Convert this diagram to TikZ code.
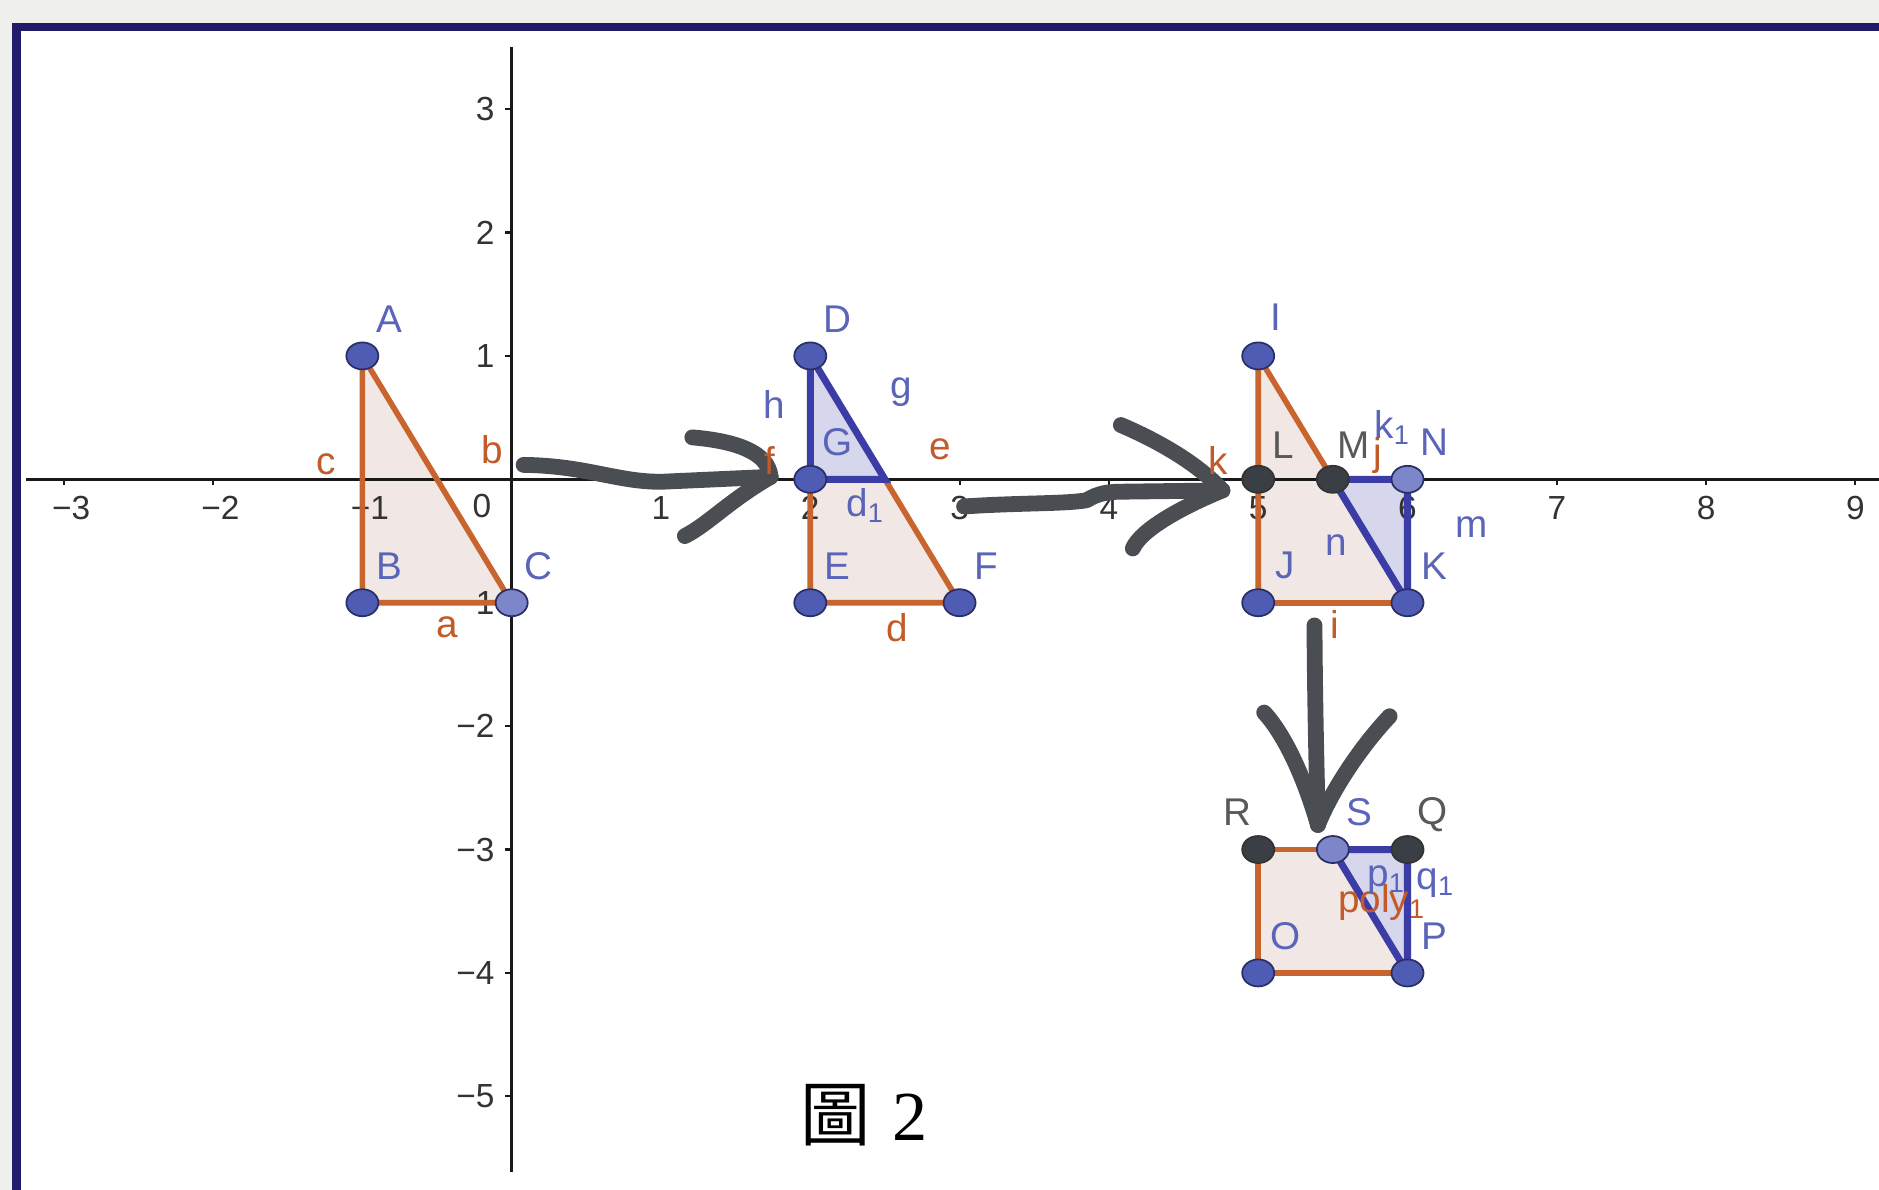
\documentclass[tikz,border=0pt]{standalone}
\usepackage{fontspec}
\setsansfont{Liberation Sans}
\newfontfamily\cjk{Noto Sans CJK TC}
\newfontfamily\capserif{Liberation Serif}
\usepackage{tikz}
\usetikzlibrary{calc,shapes.geometric}
\definecolor{ggorange}{HTML}{C8642E}
\definecolor{ggolbl}{HTML}{C25A2A}
\definecolor{ggblue}{HTML}{3C3CA6}
\definecolor{ggblbl}{HTML}{5A64B8}
\definecolor{ggpt}{HTML}{4F5CB4}
\definecolor{ggptlite}{HTML}{7C86C8}
\definecolor{ggptdark}{HTML}{3A3F45}
\definecolor{ggrim}{HTML}{2B2F66}
\definecolor{ggpink}{HTML}{F1E7E4}
\definecolor{gglilac}{HTML}{D6D6EC}
\definecolor{ggframe}{HTML}{211B6B}
\definecolor{ggpaper}{HTML}{EFEFEB}
\definecolor{ggpen}{HTML}{4A4E53}
\definecolor{ggtick}{HTML}{333333}

\tikzset{
  redge/.style={ggorange, line width=1.6pt},
  bedge/.style={ggblue, line width=2pt},
  pt/.style={ellipse, draw=ggrim, fill=ggpt, line width=0.5pt,
    minimum width=0.32cm, minimum height=0.27cm, inner sep=0pt},
  ptlite/.style={pt, fill=ggptlite},
  ptdark/.style={pt, fill=ggptdark, draw=black!80},
  plbl/.style={font=\sffamily\fontsize{11}{13}\selectfont, inner sep=0pt},
  blbl/.style={plbl, text=ggblbl},
  dlbl/.style={plbl, text=black!65},
  olbl/.style={plbl, text=ggolbl},
  ticklbl/.style={font=\sffamily\fontsize{9.5}{11}\selectfont, text=ggtick, inner sep=0pt},
  axis/.style={black!90, line width=0.8pt},
  pen/.style={ggpen, line width=4.5pt, line cap=round, line join=round},
}

\begin{document}
\begin{tikzpicture}[x=1.493cm,y=1.234cm]
  \useasboundingbox (-3.427,-5.759) rectangle (9.158,3.884);
  % screen and frame
  \fill[ggpaper] (-3.427,-5.759) rectangle (9.158,3.884);
  \fill[white] (-3.317,-5.759) rectangle (9.158,3.665);
  \draw[ggframe, line width=0.085cm] (-3.317,-5.8) -- (-3.317,3.665) -- (9.2,3.665);

  % vertices
  \coordinate (A) at (-1,1);  \coordinate (B) at (-1,-1); \coordinate (C) at (0,-1);
  \coordinate (D) at (2,1);   \coordinate (G) at (2,0);   \coordinate (dg) at (2.5,0);
  \coordinate (E) at (2,-1);  \coordinate (F) at (3,-1);
  \coordinate (I) at (5,1);   \coordinate (L) at (5,0);   \coordinate (M) at (5.5,0);
  \coordinate (N) at (6,0);   \coordinate (J) at (5,-1);  \coordinate (K) at (6,-1);
  \coordinate (R) at (5,-3);  \coordinate (S) at (5.5,-3); \coordinate (Q) at (6,-3);
  \coordinate (O) at (5,-4);  \coordinate (P) at (6,-4);

  % fills
  \fill[ggpink] (A) -- (B) -- (C) -- cycle;
  \fill[ggpink] (D) -- (E) -- (F) -- cycle;
  \fill[gglilac] (D) -- (G) -- (dg) -- cycle;
  \fill[ggpink] (I) -- (J) -- (K) -- cycle;
  \fill[gglilac] (M) -- (N) -- (K) -- cycle;
  \fill[ggpink] (O) -- (P) -- (Q) -- (R) -- cycle;
  \fill[gglilac] (S) -- (Q) -- (P) -- cycle;

  % axes
  \draw[axis] (-3.25,0) -- (9.2,0);
  \draw[axis] (0,-5.61) -- (0,3.50);
  \foreach \t in {-3,-2,-1,1,2,...,9}
    \draw[axis, line width=0.6pt] (\t,0) -- (\t,-0.05);
  \foreach \t in {-5,-4,...,-1,1,2,3}
    \draw[axis, line width=0.6pt] (0,\t) -- (-0.045,\t);
  \foreach \t in {1,...,9}
    \node[ticklbl] (tx\t) at (\t,-0.23) {\t};
  \foreach \t in {1,2,3}
    \node[ticklbl] (txm\t) at ({0.05-\t},-0.23) {−\t};
  \node[ticklbl] (t0) at (-0.2,-0.22) {0};
  \foreach \t in {1,2,3}
    \node[ticklbl, anchor=east] (ty\t) at (-0.11,\t) {\t};
  \foreach \t in {1,...,5}
    \node[ticklbl, anchor=east] (tym\t) at (-0.11,-\t) {−\t};

  % edges
  \draw[redge] (A) -- (B) -- (C) -- cycle;
  \draw[redge] (G) -- (E) -- (F) -- (dg);
  \draw[bedge] (D) -- (G) -- (dg) -- cycle;
  \draw[redge] (J) -- (I) -- (M);
  \draw[redge] (J) -- (K);
  \draw[bedge] (M) -- (N) -- (K) -- cycle;
  \draw[redge] (S) -- (R) -- (O) -- (P);
  \draw[bedge] (S) -- (Q) -- (P) -- cycle;

  % pen strokes
  \coordinate (r1a) at (0.08,0.117);  \coordinate (r1b) at (1.734,0.02);
  \draw[pen] (r1a) .. controls (0.5,0.11) and (0.7,-0.02) .. (1.0,-0.02) -- (r1b);
  \draw[pen] (1.21,0.34) .. controls (1.5,0.31) and (1.72,0.22) .. (r1b);
  \draw[pen] (1.16,-0.46) .. controls (1.32,-0.36) and (1.45,-0.18) .. (r1b);
  \coordinate (r2a) at (3.03,-0.22);  \coordinate (r2b) at (4.76,-0.09);
  \draw[pen] (r2a) .. controls (3.4,-0.19) and (3.7,-0.2) .. (3.85,-0.17)
    .. controls (3.93,-0.11) and (4.0,-0.1) .. (4.1,-0.1) -- (r2b);
  \draw[pen] (4.08,0.44) .. controls (4.35,0.30) and (4.6,0.12) .. (r2b);
  \draw[pen] (4.16,-0.56) .. controls (4.22,-0.40) and (4.5,-0.22) .. (r2b);
  \coordinate (r3a) at (5.377,-1.184); \coordinate (r3b) at (5.40,-2.80);
  \draw[pen] (r3a) .. controls (5.38,-1.8) and (5.39,-2.3) .. (r3b);
  \draw[pen] (5.04,-1.89) .. controls (5.2,-2.1) and (5.33,-2.5) .. (r3b);
  \draw[pen] (5.88,-1.92) .. controls (5.7,-2.15) and (5.5,-2.5) .. (r3b);

  % points
  \foreach \pn in {A,B,D,G,E,F,I,J,K,O,P}
    \node[pt] (p\pn) at (\pn) {};
  \foreach \pn in {C,N,S}
    \node[ptlite] (p\pn) at (\pn) {};
  \foreach \pn in {L,M,R,Q}
    \node[ptdark] (p\pn) at (\pn) {};

  % point labels
  \foreach \pn in {A,B,C,D,G,E,F,J,K,N,O,P,S}
    \node[blbl] (l\pn) at ($(\pn)+(0.18,0.3)$) {\pn};
  \node[blbl] (lI) at ($(I)+(0.12,0.31)$) {I};
  \foreach \pn in {L,Q}
    \node[dlbl] (l\pn) at ($(\pn)+(0.17,0.28)$) {\pn};
  \node[dlbl] (lM) at ($(M)+(0.14,0.28)$) {M};
  \node[dlbl] (lR) at ($(R)+(-0.14,0.3)$) {R};

  % segment labels
  \node[olbl] (sc) at (-1.245,0.12) {c};
  \node[olbl] (sb) at (-0.13,0.24) {b};
  \node[olbl] (sa) at (-0.43,-1.20) {a};
  \node[olbl] (sf) at (1.73,0.15) {f};
  \node[blbl] (sh) at (1.76,0.61) {h};
  \node[blbl] (sg) at (2.61,0.71) {g};
  \node[olbl] (se) at (2.87,0.24) {e};
  \node[blbl] (sd1) at (2.37,-0.21) {d\textsubscript{1}};
  \node[olbl] (sd) at (2.58,-1.20) {d};
  \node[olbl] (sk) at (4.73,0.15) {k};
  \node[olbl] (sj) at (5.80,0.19) {j};
  \node[blbl] (sk1) at (5.90,0.42) {k\textsubscript{1}};
  \node[blbl] (sm) at (6.43,-0.39) {m};
  \node[blbl] (sn) at (5.52,-0.53) {n};
  \node[olbl] (si) at (5.51,-1.18) {i};
  \node[olbl] (spoly) at (5.83,-3.43) {poly\textsubscript{1}};
  \node[blbl] (sp1) at (5.86,-3.25) {p\textsubscript{1}};
  \node[blbl] (sq1) at (6.19,-3.27) {q\textsubscript{1}};

  % caption
  \node[inner sep=0pt, font=\fontsize{20}{24}\selectfont] (cap) at (2.36,-5.15)
    {{\cjk 圖}\hspace{0.22cm}{\capserif 2}};
\end{tikzpicture}
\end{document}
